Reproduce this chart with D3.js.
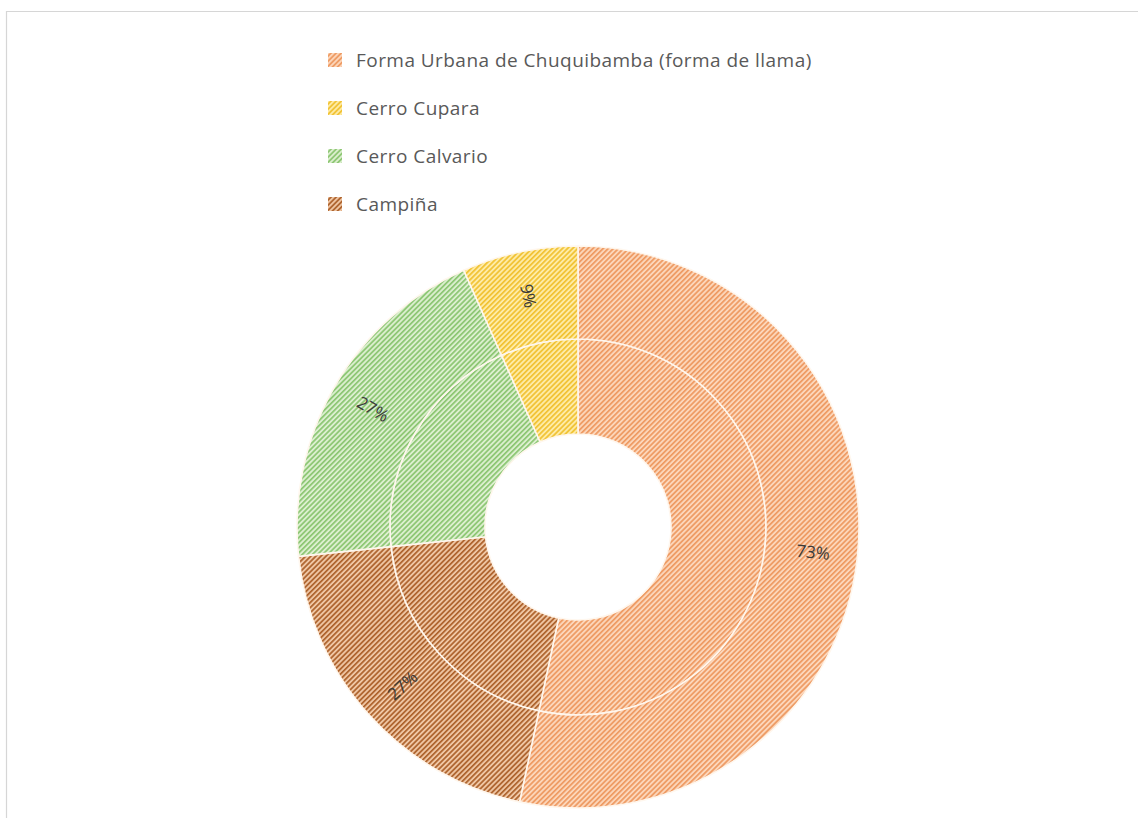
<!DOCTYPE html>
<html>
<head>
<meta charset="utf-8">
<script src="https://cdn.jsdelivr.net/npm/d3@7/dist/d3.min.js"></script>
<style>
  html, body { margin: 0; padding: 0; background: #ffffff; }
  svg { display: block; }
</style>
</head>
<body>
<svg id="chart" width="1138" height="818"></svg>
<script>
// ---- data ----
const categories = ["Forma Urbana de Chuquibamba (forma de llama)", "Cerro Cupara", "Cerro Calvario", "Campiña"];
const outerValues = [8, 1, 3, 3];
const innerValues = [8, 1, 3, 3];
const outerLabels = ["73%", "9%", "27%", "27%"];
// drawing order clockwise from 12 o'clock (as in the reference)
const drawOrder = [0, 3, 2, 1];
const baseColors = ["#fcd6ba", "#feeba6", "#dcefcf", "#efc6a4"];
const stripeColors = ["#ee9a62", "#f1c232", "#8cc672", "#ad622c"];

const svg = d3.select("#chart");
const W = 1138, H = 818;

// frame
svg.append("path")
  .attr("d", `M6.5,${H + 5} L6.5,11.5 L${W + 5},11.5`)
  .attr("fill", "none").attr("stroke", "#d6d6d6").attr("stroke-width", 1.2);

// hatch patterns
const defs = svg.append("defs");
categories.forEach((c, i) => {
  const p = defs.append("pattern")
    .attr("id", "hatch" + i)
    .attr("patternUnits", "userSpaceOnUse")
    .attr("width", 3.6).attr("height", 3.6)
    .attr("patternTransform", "rotate(45)");
  p.append("rect").attr("width", 3.6).attr("height", 3.6).attr("fill", baseColors[i]);
  p.append("rect").attr("x", 0).attr("width", 1.7).attr("height", 3.6).attr("fill", stripeColors[i]);
});

// rings
const cx = 578, cy = 527;
const rHole = 93, rMid = 188, rOuter = 281;
const g = svg.append("g").attr("transform", `translate(${cx},${cy})`);

const pie = d3.pie().sort(null).value(d => d.v);
function ringData(vals) {
  return pie(drawOrder.map(i => ({ i: i, v: vals[i] })));
}
const innerArc = d3.arc().innerRadius(rHole).outerRadius(rMid);
const outerArc = d3.arc().innerRadius(rMid).outerRadius(rOuter);

g.selectAll("path.inner").data(ringData(innerValues)).join("path")
  .attr("class", "inner")
  .attr("d", innerArc)
  .attr("fill", d => `url(#hatch${d.data.i})`)
  .attr("stroke", "#fff7ee").attr("stroke-width", 1.6);

const outerD = ringData(outerValues);
g.selectAll("path.outer").data(outerD).join("path")
  .attr("class", "outer")
  .attr("d", outerArc)
  .attr("fill", d => `url(#hatch${d.data.i})`)
  .attr("stroke", "#fff7ee").attr("stroke-width", 1.6);

// data labels (rotated tangentially, kept readable)
const labelR = (rMid + rOuter) / 2 + 2;
g.selectAll("text.lbl").data(outerD).join("text")
  .attr("class", "lbl")
  .attr("transform", d => {
    const a = (d.startAngle + d.endAngle) / 2;
    const x = Math.sin(a) * labelR, y = -Math.cos(a) * labelR;
    let rot = a * 180 / Math.PI - 90;
    if (rot > 90) rot -= 180;
    if (rot < -90) rot += 180;
    return `translate(${x},${y}) rotate(${rot})`;
  })
  .attr("text-anchor", "middle")
  .attr("dominant-baseline", "central")
  .attr("font-family", "'Open Sans', 'DejaVu Sans', sans-serif")
  .attr("font-size", 17)
  .attr("fill", "#3a3a3a")
  .text(d => outerLabels[d.data.i]);

// legend
const legendX = 328, legendY0 = 60, legendStep = 48;
const lg = svg.append("g");
const items = lg.selectAll("g").data(categories).join("g")
  .attr("transform", (d, i) => `translate(${legendX},${legendY0 + i * legendStep})`);
items.append("rect")
  .attr("x", 0).attr("y", -7).attr("width", 14).attr("height", 14)
  .attr("fill", (d, i) => `url(#hatch${i})`);
items.append("text")
  .attr("x", 28).attr("y", 0)
  .attr("dominant-baseline", "central")
  .attr("font-family", "'Open Sans', 'DejaVu Sans', sans-serif")
  .attr("font-size", 19)
  .attr("letter-spacing", 0.45)
  .attr("fill", "#595959")
  .text(d => d);
</script>
</body>
</html>
